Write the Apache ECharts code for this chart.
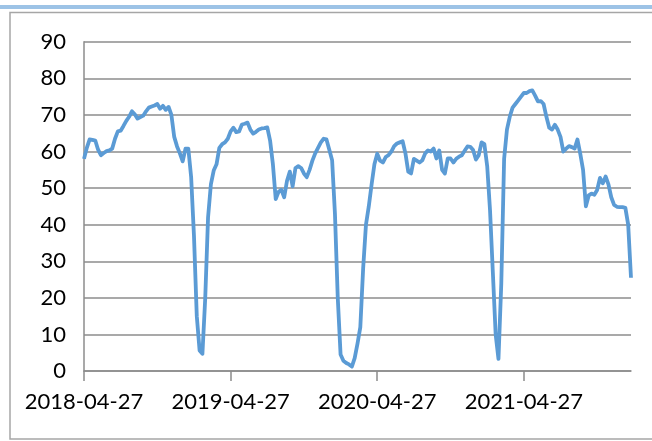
<!DOCTYPE html>
<html>
<head>
<meta charset="utf-8">
<script src="https://cdn.jsdelivr.net/npm/echarts@6/dist/echarts.min.js"></script>
<style>
  html, body { margin: 0; padding: 0; background: #fff; }
  #chart { width: 652px; height: 441px; }
</style>
</head>
<body>
<div id="chart"></div>
<script>
// weekly readings, first week 2018-04-27
const weekValues = [
  58, 61, 63.3, 63.2, 63, 60.5, 59, 59.6, 60.1, 60.3,
  60.8, 63.5, 65.5, 65.7, 67, 68.4, 69.5, 71, 70.2, 69,
  69.4, 69.8, 71, 72, 72.3, 72.6, 73, 71.7, 72.5, 71.4,
  72.2, 70, 64, 61.4, 59.5, 57.3, 60.8, 60.8, 53, 37,
  15, 5.6, 4.7, 20, 42, 51, 54.8, 56.5, 61, 62,
  62.5, 63.5, 65.5, 66.5, 65.3, 65.5, 67.4, 67.6, 67.9, 66,
  64.9, 65.4, 66, 66.3, 66.4, 66.6, 63, 56.5, 47, 49,
  49.5, 47.5, 52, 54.5, 50.5, 55.5, 56, 55.5, 54, 53,
  55, 57.5, 59.5, 61, 62.5, 63.5, 63.3, 60.5, 57.6, 43,
  20, 4.5, 2.8, 2.2, 1.8, 1.2, 3.5, 7.5, 12, 28,
  40, 45, 51, 56.5, 59.4, 57.5, 57, 58.5, 59, 60,
  61.5, 62.2, 62.5, 62.8, 59.5, 54.5, 54, 58, 57.5, 57,
  57.6, 59.5, 60.3, 60, 60.8, 58.1, 60.3, 55, 54, 58.1,
  58.1, 57, 58, 58.6, 59, 60.2, 61.4, 61.3, 60.4, 57.8,
  59, 62.5, 62, 56, 44, 27, 10, 3.3, 24, 58,
  66, 69.5, 72, 73, 74, 75, 76, 76, 76.5, 76.7,
  75.3, 73.7, 73.8, 73, 69.5, 66.5, 66, 67.3, 66, 64,
  60, 60.8, 61.5, 61.2, 60.8, 63.3, 59.4, 55, 45, 48,
  48.5, 48.2, 49.5, 52.8, 51.3, 53.2, 51, 47.5, 45.4, 44.9,
  44.8, 44.8, 44.6, 40, 25.5
]
const tickLabels = ['2018-04-27', '2019-04-27', '2020-04-27', '2021-04-27']
const weeksPerLabel = 52
const yTicks = [0, 10, 20, 30, 40, 50, 60, 70, 80, 90]

const chart = echarts.init(document.getElementById('chart'))
const axisFont = { fontFamily: 'Lato', fontSize: 22, color: '#000' }

chart.setOption({
  backgroundColor: '#fff',
  animation: false,
  graphic: [
    // thin blue band along the top
    { type: 'rect', shape: { x: 0, y: 5, width: 652, height: 4 }, style: { fill: '#9dc3e6' }, silent: true },
    // outer frame (right side runs off the picture)
    { type: 'rect', shape: { x: 10, y: 12.5, width: 700, height: 426.5 }, style: { fill: 'none', stroke: '#a6a6a6', lineWidth: 1.5 }, silent: true }
  ],
  grid: { left: 84, right: 21, top: 41.8, bottom: 70 },
  xAxis: {
    type: 'category',
    boundaryGap: false,
    data: weekValues.map((v, i) => i),
    axisLine: { lineStyle: { color: '#8c8c8c', width: 1.5 } },
    axisTick: { interval: weeksPerLabel - 1, length: 10, lineStyle: { color: '#8c8c8c', width: 1.5 } },
    axisLabel: Object.assign({
      interval: weeksPerLabel - 1,
      margin: 20,
      formatter: (val, idx) => tickLabels[idx / weeksPerLabel] || ''
    }, axisFont),
    splitLine: { show: false }
  },
  yAxis: {
    type: 'value',
    min: yTicks[0],
    max: yTicks[yTicks.length - 1],
    interval: 10,
    axisLine: { show: true, lineStyle: { color: '#8c8c8c', width: 1.5 } },
    axisTick: { show: false },
    axisLabel: Object.assign({ margin: 18 }, axisFont),
    splitLine: { lineStyle: { color: '#8c8c8c', width: 1.5 } }
  },
  series: [
    {
      type: 'line',
      data: weekValues,
      symbol: 'none',
      lineStyle: { color: '#5b9bd5', width: 3.8, join: 'round' }
    }
  ]
})
</script>
</body>
</html>
